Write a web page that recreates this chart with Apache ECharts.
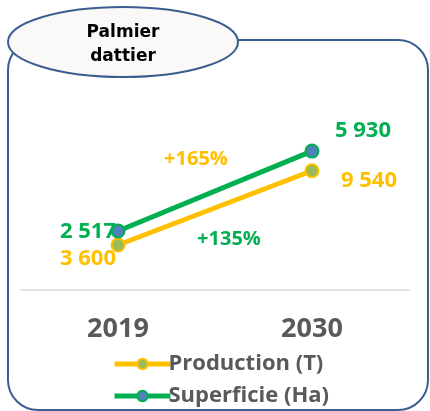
<!DOCTYPE html>
<html lang="fr">
<head>
<meta charset="UTF-8">
<title>Palmier dattier</title>
<script src="https://cdn.jsdelivr.net/npm/echarts@6.0.0/dist/echarts.min.js"></script>
<style>
  html, body { margin: 0; padding: 0; background: #fff; }
  #main { width: 430px; height: 411px; }
</style>
</head>
<body>
<div id="main"></div>
<script>
var years = ['2019', '2030'];
var production = [3600, 9540];
var superficie = [2517, 5930];
var seriesNames = ['Production (T)', 'Superficie (Ha)'];
var growth = ['+165%', '+135%'];

var ORANGE = '#FFC000';
var GREEN = '#00B050';
var GREY = '#595959';
var FONT = 'Open Sans';

function fmt(v) {
  return String(v).replace(/\B(?=(\d{3})+(?!\d))/g, ' ');
}

// label offsets (px from the point) for each point
var prodOffsets = [[-30, 14], [57, 10]];
var supOffsets = [[-30, 1], [51, -20]];

function pts(values, offsets, color) {
  return values.map(function (v, i) {
    return {
      value: v,
      label: {
        show: true, position: 'inside', offset: offsets[i],
        align: 'center', verticalAlign: 'middle',
        formatter: function (p) { return fmt(p.value); },
        color: color, fontFamily: FONT, fontWeight: 'bold', fontSize: 22
      }
    };
  });
}

function legendFor(name, top) {
  return {
    orient: 'vertical',
    left: 107,
    top: top,
    itemWidth: 56,
    itemHeight: 13,
    lineStyle: { width: 5 },
    textStyle: { color: GREY, fontFamily: FONT, fontWeight: 'bold', fontSize: 22, padding: [0, 0, 0, -7] },
    data: [name]
  };
}

var chart = echarts.init(document.getElementById('main'));

chart.setOption({
  animation: false,
  grid: { left: 21, right: 21, top: 130, bottom: 121 },
  xAxis: {
    type: 'category',
    data: years,
    axisLine: { lineStyle: { color: '#D9D9D9', width: 1.5 } },
    axisTick: { show: false },
    axisLabel: { color: GREY, fontFamily: FONT, fontWeight: 'bold', fontSize: 27, margin: 26 }
  },
  yAxis: [
    { type: 'value', min: 0, max: 12800, show: false, splitLine: { show: false } },
    { type: 'value', min: 0, max: 6830, show: false, splitLine: { show: false } }
  ],
  legend: [legendFor(seriesNames[0], 348), legendFor(seriesNames[1], 380)],
  series: [
    {
      name: seriesNames[0],
      type: 'line',
      yAxisIndex: 0,
      data: pts(production, prodOffsets, ORANGE),
      symbol: 'circle',
      symbolSize: 13,
      lineStyle: { color: ORANGE, width: 5 },
      itemStyle: { color: '#9BBB59', borderColor: ORANGE, borderWidth: 2 },
      z: 2
    },
    {
      name: seriesNames[1],
      type: 'line',
      yAxisIndex: 1,
      data: pts(superficie, supOffsets, GREEN),
      symbol: 'circle',
      symbolSize: 13,
      lineStyle: { color: GREEN, width: 5 },
      itemStyle: { color: '#4F81BD', borderColor: GREEN, borderWidth: 2 },
      z: 3
    }
  ],
  graphic: [
    {
      type: 'rect', z: -1,
      shape: { x: 8, y: 40, width: 420, height: 370, r: 30 },
      style: { fill: 'none', stroke: '#3B5E91', lineWidth: 2 }
    },
    {
      type: 'ellipse', z: 10,
      shape: { cx: 123, cy: 42, rx: 115, ry: 35 },
      style: { fill: '#FAF9F7', stroke: '#3B5E91', lineWidth: 2 }
    },
    {
      type: 'text', z: 11, x: 123, y: 45,
      style: {
        text: 'Palmier\ndattier',
        align: 'center', verticalAlign: 'middle',
        fill: '#000', fontFamily: 'DejaVu Sans', fontWeight: 'bold', fontSize: 17, lineHeight: 24
      }
    },
    {
      type: 'text', z: 11, x: 196, y: 159,
      style: {
        text: growth[0], align: 'center', verticalAlign: 'middle',
        fill: ORANGE, fontFamily: FONT, fontWeight: 'bold', fontSize: 20
      }
    },
    {
      type: 'text', z: 11, x: 229, y: 239,
      style: {
        text: growth[1], align: 'center', verticalAlign: 'middle',
        fill: GREEN, fontFamily: FONT, fontWeight: 'bold', fontSize: 20
      }
    }
  ]
});
</script>
</body>
</html>
